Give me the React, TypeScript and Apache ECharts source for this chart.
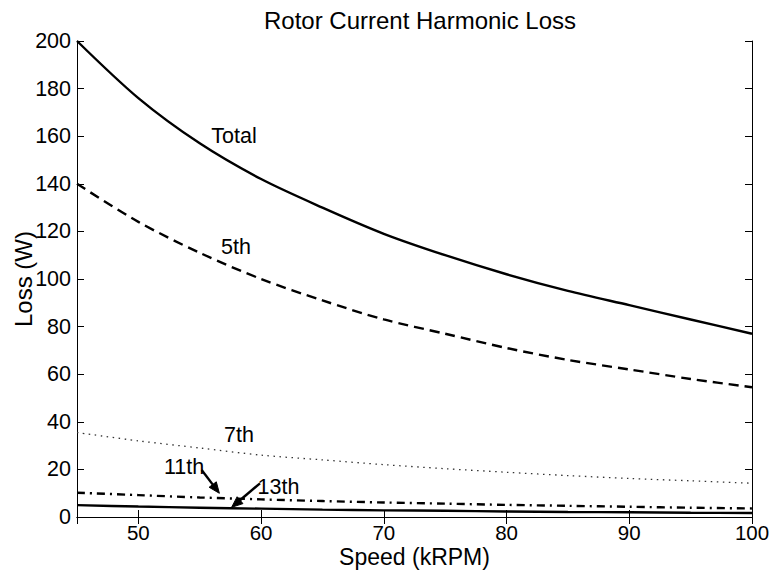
import React, { useEffect, useRef } from "react";
import * as echarts from "echarts";

const speeds = [45, 50, 55, 60, 65, 70, 75, 80, 85, 90, 95, 100];
const totalLoss = [200, 176, 157, 142, 130, 119, 110, 102, 95, 89, 83, 77];
const loss5th = [140, 124, 111, 100, 91, 83, 77, 71, 66, 62, 58, 54.5];
const loss7th = [35.5, 32, 29, 26, 24, 22, 20.3, 18.8, 17.4, 16.2, 15.2, 14.2];
const loss11th = [10.2, 9.2, 8.2, 7.4, 6.7, 6.1, 5.6, 5.1, 4.7, 4.3, 3.9, 3.6];
const loss13th = [5.0, 4.4, 3.9, 3.5, 3.1, 2.8, 2.6, 2.3, 2.1, 2.0, 1.8, 1.7];

const labelTexts = ["Total", "5th", "7th", "11th", "13th"];
const labelX = [57.79, 57.96, 58.2, 53.72, 61.42];
const labelY = [160.1, 113.4, 34.45, 20.8, 12.4];

// arrows: [fromX, fromY, tipX, tipY]
const arrows = [
  [55.16, 19.75, 56.6, 9.96],
  [59.91, 14.16, 57.6, 4.08],
];

const FONT = "'Liberation Sans', Arial, Helvetica, sans-serif";

function pairs(ys: number[]) {
  return speeds.map((x, i) => [x, ys[i]]);
}

export default function App() {
  const ref = useRef<HTMLDivElement>(null);
  useEffect(() => {
    if (!ref.current) return;
    const chart = echarts.init(ref.current, undefined, { renderer: "svg" });
    const axisCommon = {
      axisLine: { show: true, lineStyle: { color: "#000", width: 1 } },
      axisTick: { show: true, inside: true, length: 7, lineStyle: { color: "#000", width: 1 } },
      splitLine: { show: false },
    };
    const mkLine = (name: string, ys: number[], lineStyle: any) => ({
      name,
      type: "line",
      data: pairs(ys),
      smooth: 0.3,
      showSymbol: false,
      symbol: "none",
      lineStyle: { color: "#000", ...lineStyle },
      z: 3,
    });
    chart.setOption({
      animation: false,
      backgroundColor: "#fff",
      title: {
        text: "Rotor Current Harmonic Loss",
        left: 415,
        textAlign: "center",
        top: 3,
        textStyle: { fontFamily: FONT, fontSize: 24, fontWeight: "normal", color: "#000" },
      },
      grid: {
        left: 77,
        right: 20,
        top: 41,
        bottom: 56,
        containLabel: false,
        outerBoundsMode: "none",
      },
      xAxis: [
        {
          type: "value",
          min: 45,
          max: 100,
          minInterval: 10,
          maxInterval: 10,
          position: "bottom",
          name: "Speed (kRPM)",
          nameLocation: "middle",
          nameGap: 28,
          nameMoveOverlap: false,
          nameTextStyle: { fontFamily: FONT, fontSize: 23, color: "#000" },
          axisLabel: { showMinLabel: false, fontFamily: FONT, fontSize: 20.5, color: "#000", margin: 5 },
          ...axisCommon,
        },
        {
          type: "value",
          min: 45,
          max: 100,
          minInterval: 10,
          maxInterval: 10,
          position: "top",
          axisLabel: { show: false },
          ...axisCommon,
        },
      ],
      yAxis: [
        {
          type: "value",
          min: 0,
          max: 200,
          interval: 20,
          position: "left",
          name: "Loss (W)",
          nameLocation: "middle",
          nameGap: 42,
          nameMoveOverlap: false,
          nameTextStyle: { fontFamily: FONT, fontSize: 24, color: "#000" },
          axisLabel: { fontFamily: FONT, fontSize: 21.5, color: "#000", margin: 6 },
          ...axisCommon,
        },
        {
          type: "value",
          min: 0,
          max: 200,
          interval: 20,
          position: "right",
          axisLabel: { show: false },
          ...axisCommon,
        },
      ],
      series: [
        mkLine("Total", totalLoss, { width: 2.4, type: "solid" }),
        mkLine("5th", loss5th, { width: 2.4, type: [10, 6] }),
        mkLine("7th", loss7th, { width: 1.3, type: [1.5, 4.5], color: "#333" }),
        mkLine("11th", loss11th, { width: 2.4, type: [8, 5, 2, 5] }),
        mkLine("13th", loss13th, { width: 2.4, type: "solid" }),
      ],
    });

    const toPx = (x: number, y: number) =>
      chart.convertToPixel({ xAxisIndex: 0, yAxisIndex: 0 }, [x, y]) as number[];

    const graphics: any[] = [];
    labelTexts.forEach((t, i) => {
      const p = toPx(labelX[i], labelY[i]);
      graphics.push({
        type: "text",
        x: p[0],
        y: p[1],
        z: 10,
        style: {
          text: t,
          fontFamily: FONT,
          fontSize: 21.5,
          fill: "#000",
          align: "center",
          verticalAlign: "middle",
        },
      });
    });
    arrows.forEach((a) => {
      const s = toPx(a[0], a[1]);
      const t = toPx(a[2], a[3]);
      const dx = t[0] - s[0];
      const dy = t[1] - s[1];
      const len = Math.sqrt(dx * dx + dy * dy);
      const ux = dx / len;
      const uy = dy / len;
      const nx = -uy;
      const ny = ux;
      const L = 11;
      const W = 4.5;
      const bx = t[0] - L * ux;
      const by = t[1] - L * uy;
      graphics.push({
        type: "line",
        z: 10,
        shape: { x1: s[0], y1: s[1], x2: bx + ux * 2, y2: by + uy * 2 },
        style: { stroke: "#000", lineWidth: 2.4 },
      });
      graphics.push({
        type: "polygon",
        z: 10,
        shape: {
          points: [
            [t[0], t[1]],
            [bx + W * nx, by + W * ny],
            [bx - W * nx, by - W * ny],
          ],
        },
        style: { fill: "#000", stroke: "#000", lineWidth: 1 },
      });
    });
    chart.setOption({ graphic: graphics });

    return () => chart.dispose();
  }, []);
  return (
    <div
      ref={ref}
      style={{ position: "fixed", left: 0, top: 0, width: 772, height: 573, background: "#fff" }}
    />
  );
}
